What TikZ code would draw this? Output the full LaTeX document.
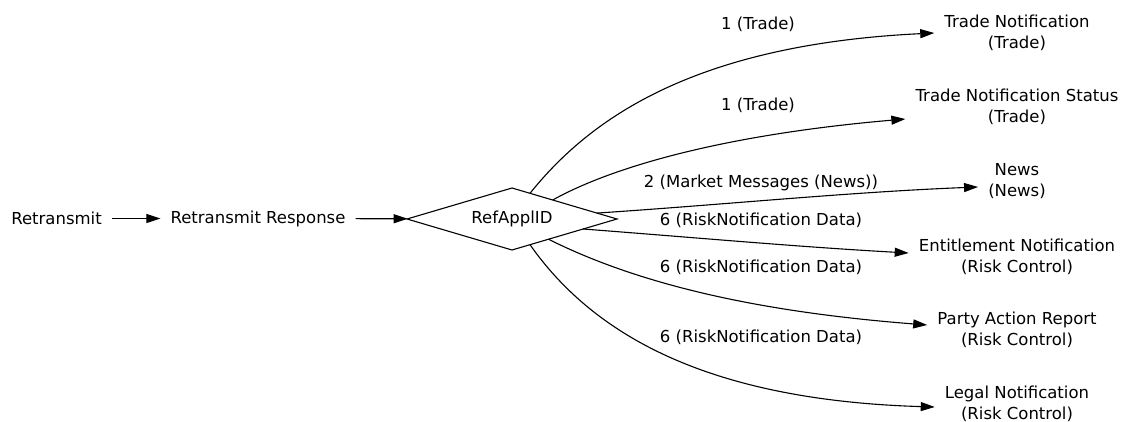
\documentclass[tikz,border=0pt]{standalone}
\usepackage{fontspec}
\setmainfont{DejaVu Sans}
\usetikzlibrary{arrows.meta,shapes.geometric}

\begin{document}
\begin{tikzpicture}[x=1pt,y=-1pt,
	text_node/.style={inner xsep=10pt,inner ysep=2pt,align=center,font=\fontsize{16.5}{21}\selectfont},
	choice_node/.style={diamond,draw,line width=1.1pt,minimum width=210pt,minimum height=62pt,inner sep=0pt,outer sep=0pt,aspect=3.4,font=\fontsize{16.5}{21}\selectfont},
	edge_label/.style={inner sep=0pt,font=\fontsize{16.5}{21}\selectfont},
	flow_edge/.style={line width=1.1pt,-{Triangle[length=14pt,width=9pt]}}]
	\useasboundingbox (0,0) rectangle (1124,422);

	\node[text_node] (rt) at (56.5,218.5) {Retransmit};
	\node[text_node] (rr) at (258,218.5) {Retransmit Response};
	\node[choice_node] (ref) at (512,219) {RefApplID};

	\node[text_node] (tn) at (1017,32.5) {Trade Notification\\(Trade)};
	\node[text_node] (tns) at (1017,107) {Trade Notification Status\\(Trade)};
	\node[text_node] (news) at (1017,181.5) {News\\(News)};
	\node[text_node] (ent) at (1017,256.5) {Entitlement Notification\\(Risk Control)};
	\node[text_node] (par) at (1017,329.5) {Party Action Report\\(Risk Control)};
	\node[text_node] (legal) at (1017,404) {Legal Notification\\(Risk Control)};

	\draw[flow_edge] (rt) -- (rr);
	\draw[flow_edge] (rr) -- (ref);

	\draw[flow_edge] (ref.55) .. controls (585,125) and (685,45) .. ([yshift=-0.5pt]tn.west);
	\draw[flow_edge] (ref.25) .. controls (610,168) and (720,135) .. ([yshift=-12pt]tns.west);
	\draw[flow_edge] (ref.4) .. controls (720,205) and (850,192) .. ([yshift=-5.5pt]news.west);
	\draw[flow_edge] (ref.-8) .. controls (700,238) and (800,247) .. ([yshift=3.5pt]ent.west);
	\draw[flow_edge] (ref.-29.5) .. controls (640,285) and (760,312) .. ([yshift=4.5pt]par.west);
	\draw[flow_edge] (ref.-55) .. controls (590,330) and (700,400) .. ([yshift=-3pt]legal.west);

	\node[edge_label] (l_tn) at (758,24) {1 (Trade)};
	\node[edge_label] (l_tns) at (758,105) {1 (Trade)};
	\node[edge_label] (l_news) at (761,183) {2 (Market Messages (News))};
	\node[edge_label] (l_ent) at (761,220) {6 (RiskNotification Data)};
	\node[edge_label] (l_par) at (761,267) {6 (RiskNotification Data)};
	\node[edge_label] (l_legal) at (761,337) {6 (RiskNotification Data)};
\end{tikzpicture}
\end{document}
